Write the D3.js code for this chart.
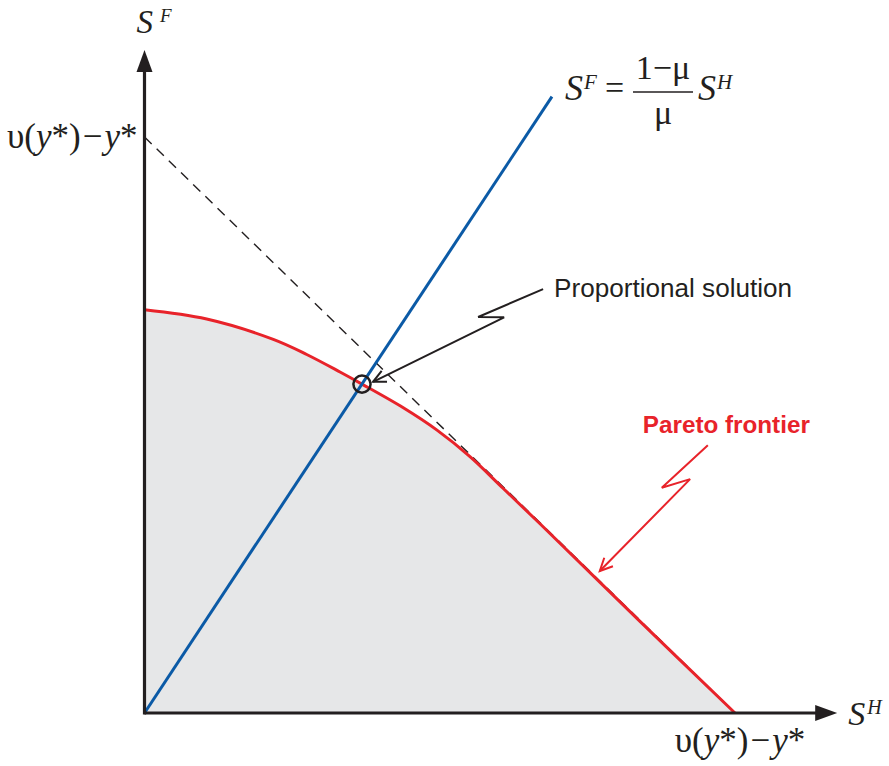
<!DOCTYPE html>
<html>
<head>
<meta charset="utf-8">
<script src="https://cdn.jsdelivr.net/npm/d3@7"></script>
<style>
  html, body { margin: 0; padding: 0; background: #ffffff; }
  svg { display: block; }
</style>
</head>
<body>
<svg id="chart" width="889" height="766"></svg>
<script>
// ---- data (normalised units: 1 = υ(y*) − y*) ----
const frontierSH = [0, 0.1053, 0.2181, 0.2747, 0.3311, 0.3683, 0.4383, 0.4948, 0.5512, 0.6076, 0.6698, 0.8391, 1];
const frontierSF = [0.700, 0.6839, 0.6486, 0.6224, 0.5920, 0.5710, 0.5299, 0.4915, 0.4451, 0.3898, 0.3285, 0.1592, 0];
const raySH = [0, 0.69];
const raySF = [0, 1.07];
const budgetSH = [0, 1];
const budgetSF = [1, 0];
const solutionPoint = [0.3683, 0.5710];
const axisEnds = [1.173, 1.151];           // arrow tips of S^H and S^F axes
const propArrowSH = [0.675, 0.565, 0.609, 0.387];
const propArrowSF = [0.736, 0.6875, 0.687, 0.575];
const paretoArrowSH = [0.954, 0.876, 0.924, 0.771];
const paretoArrowSF = [0.465, 0.391, 0.406, 0.2465];
const labels = {
  prop: "Proportional solution",
  pareto: "Pareto frontier"
};

// ---- scales ----
const x = d3.scaleLinear().domain([0, 1]).range([144.5, 735]);
const y = d3.scaleLinear().domain([0, 1]).range([713, 137]);

const svg = d3.select("#chart");
const ink = "#231f20";
const red = "#e8232a";
const blue = "#0b5aa6";
const serif = "'Liberation Serif','Times New Roman',serif";
const sans = "'Liberation Sans',Arial,Helvetica,sans-serif";

const frontier = frontierSH.map((v, i) => [v, frontierSF[i]]);
const curve = d3.curveCatmullRom.alpha(0.5);

// shaded feasible set
svg.append("path")
  .datum(frontier)
  .attr("d", d3.area().x(d => x(d[0])).y0(y(0)).y1(d => y(d[1])).curve(curve))
  .attr("fill", "#e6e7e8");

// dashed budget line
svg.append("line")
  .attr("x1", x(budgetSH[0])).attr("y1", y(budgetSF[0]))
  .attr("x2", x(budgetSH[1])).attr("y2", y(budgetSF[1]))
  .attr("stroke", ink).attr("stroke-width", 1.4)
  .attr("stroke-dasharray", "10,7");

// Pareto frontier
svg.append("path")
  .datum(frontier)
  .attr("d", d3.line().x(d => x(d[0])).y(d => y(d[1])).curve(curve))
  .attr("fill", "none").attr("stroke", red).attr("stroke-width", 3);

// ray S^F = (1-μ)/μ S^H
svg.append("line")
  .attr("x1", x(raySH[0])).attr("y1", y(raySF[0]))
  .attr("x2", x(raySH[1])).attr("y2", y(raySF[1]))
  .attr("stroke", blue).attr("stroke-width", 3);

// axes
svg.append("line")
  .attr("x1", x(0)).attr("y1", y(0))
  .attr("x2", x(axisEnds[0]) - 18).attr("y2", y(0))
  .attr("stroke", ink).attr("stroke-width", 3.2);
svg.append("line")
  .attr("x1", x(0)).attr("y1", y(0) + 1.6)
  .attr("x2", x(0)).attr("y2", y(axisEnds[1]) + 18)
  .attr("stroke", ink).attr("stroke-width", 3.2);
// arrow heads
const tx = x(axisEnds[0]), ty = y(0);
svg.append("path")
  .attr("d", `M${tx},${ty} L${tx - 22},${ty - 8} L${tx - 22},${ty + 8} Z`)
  .attr("fill", ink);
const ux = x(0), uy = y(axisEnds[1]);
svg.append("path")
  .attr("d", `M${ux},${uy} L${ux - 8},${uy + 22} L${ux + 8},${uy + 22} Z`)
  .attr("fill", ink);

// solution circle
svg.append("circle")
  .attr("cx", x(solutionPoint[0])).attr("cy", y(solutionPoint[1]))
  .attr("r", 8.6)
  .attr("fill", "none").attr("stroke", ink).attr("stroke-width", 2.5);

// annotation arrows
function zigArrow(xs, ys, color) {
  const pts = xs.map((v, i) => [x(v), y(ys[i])]);
  svg.append("path")
    .attr("d", d3.line()(pts))
    .attr("fill", "none").attr("stroke", color).attr("stroke-width", 2)
    .attr("stroke-linejoin", "miter");
  const n = pts.length;
  const [ax, ay] = pts[n - 1];
  const [bx, by] = pts[n - 2];
  const ang = Math.atan2(by - ay, bx - ax);
  const L = 14, spread = 0.45;
  const p1 = [ax + L * Math.cos(ang + spread), ay + L * Math.sin(ang + spread)];
  const p2 = [ax + L * Math.cos(ang - spread), ay + L * Math.sin(ang - spread)];
  svg.append("path")
    .attr("d", `M${p1[0]},${p1[1]} L${ax},${ay} L${p2[0]},${p2[1]}`)
    .attr("fill", "none").attr("stroke", color).attr("stroke-width", 2);
}
zigArrow(propArrowSH, propArrowSF, ink);
zigArrow(paretoArrowSH, paretoArrowSF, red);

// annotation texts
svg.append("text")
  .attr("x", x(propArrowSH[0]) + 11).attr("y", y(propArrowSF[0]) + 8)
  .attr("font-family", sans).attr("font-size", 26).attr("fill", ink)
  .attr("textLength", 238).attr("lengthAdjust", "spacingAndGlyphs")
  .text(labels.prop);
svg.append("text")
  .attr("x", x(paretoArrowSH[0]) - 65).attr("y", y(paretoArrowSF[0]) - 12)
  .attr("font-family", sans).attr("font-size", 24.5).attr("font-weight", "bold").attr("fill", red)
  .attr("textLength", 167).attr("lengthAdjust", "spacingAndGlyphs")
  .text(labels.pareto);

// math labels
function vLabel(xp, yp, anchor) {
  const t = svg.append("text")
    .attr("x", xp).attr("y", yp).attr("text-anchor", anchor)
    .attr("font-family", serif).attr("font-size", 35).attr("fill", ink);
  t.append("tspan").text("υ(");
  t.append("tspan").attr("font-style", "italic").text("y");
  t.append("tspan").text("*)");
  t.append("tspan").attr("dx", 2).text("−");
  t.append("tspan").attr("dx", 2).attr("font-style", "italic").text("y");
  t.append("tspan").text("*");
}
vLabel(x(0) - 7, y(1) + 11, "end");
vLabel(x(1) + 5, 752, "middle");

function supLabel(xp, yp, base, sup, size, supSize, dx) {
  const t = svg.append("text")
    .attr("x", xp).attr("y", yp)
    .attr("font-family", serif).attr("font-size", size).attr("font-style", "italic").attr("fill", ink);
  t.append("tspan").text(base);
  t.append("tspan").attr("font-size", supSize).attr("dx", dx).attr("dy", -11).text(sup);
}
supLabel(x(0) - 8, 33, "S", "F", 33, 19, 7);
supLabel(x(axisEnds[0]) + 11, 725, "S", "H", 34, 20, 2);

// formula S^F = (1-μ)/μ S^H
const fx = 565, fy = 100;
supLabel(fx, fy, "S", "F", 36, 21, 1);
svg.append("text").attr("x", 605).attr("y", fy - 1)
  .attr("font-family", serif).attr("font-size", 34).attr("fill", ink).text("=");
svg.append("text").attr("x", 663).attr("y", 79).attr("text-anchor", "middle")
  .attr("font-family", serif).attr("font-size", 34).attr("fill", ink).text("1−μ");
svg.append("line").attr("x1", 633).attr("x2", 693).attr("y1", 92).attr("y2", 92)
  .attr("stroke", ink).attr("stroke-width", 1.5);
svg.append("text").attr("x", 663).attr("y", 124).attr("text-anchor", "middle")
  .attr("font-family", serif).attr("font-size", 34).attr("fill", ink).text("μ");
supLabel(698, fy, "S", "H", 36, 21, 1);
</script>
</body>
</html>
